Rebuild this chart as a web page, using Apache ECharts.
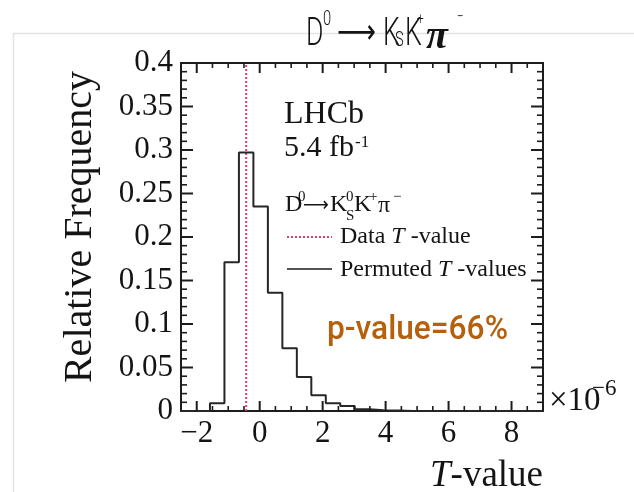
<!DOCTYPE html>
<html>
<head>
<meta charset="utf-8">
<script src="https://cdn.jsdelivr.net/npm/echarts@6/dist/echarts.min.js"></script>
<style>
  html, body { margin: 0; padding: 0; background: #fff; }
  #chart { width: 634px; height: 492px; }
</style>
</head>
<body>
<div id="chart"></div>
<script>
// Permutation-test histogram: relative frequency of permuted T-values (units of 1e-6)
const binEdges = [-2.5, -2.04, -1.58, -1.12, -0.66, -0.2, 0.26, 0.72, 1.18, 1.64, 2.1, 2.56,
                  3.02, 3.48, 3.94, 4.4, 4.86, 5.32, 5.78, 6.24, 6.7, 7.16, 7.62, 8.08, 8.54, 9.0];
const relFreq = [0, 0, 0.009, 0.171, 0.297, 0.235, 0.136, 0.072, 0.039, 0.018, 0.009, 0.0057,
                 0.002, 0.001, 0.0005, 0, 0, 0, 0, 0, 0, 0, 0, 0, 0];
const dataTValue = -0.43;
const pValueText = 'p-value=66%';

const xRange = [-2.5, 9];
const yRange = [0, 0.4];
const yMajorStep = 0.05;
const xMajorTicks = [-2, 0, 2, 4, 6, 8];
const xMinorTicks = [-1.5, -1, -0.5, 0.5, 1, 1.5, 2.5, 3, 3.5, 4.5, 5, 5.5, 6.5, 7, 7.5, 8.5];
const yMajorTicks = [0.05, 0.1, 0.15, 0.2, 0.25, 0.3, 0.35];
const yMinorTicks = [0.01, 0.02, 0.03, 0.04, 0.06, 0.07, 0.08, 0.09, 0.11, 0.12, 0.13, 0.14,
                     0.16, 0.17, 0.18, 0.19, 0.21, 0.22, 0.23, 0.24, 0.26, 0.27, 0.28, 0.29,
                     0.31, 0.32, 0.33, 0.34, 0.36, 0.37, 0.38, 0.39];

// outline of the histogram: corner points along each bin
const histPoints = [[binEdges[0], 0]];
relFreq.forEach((v, i) => {
  histPoints.push([binEdges[i], v]);
  histPoints.push([binEdges[i + 1], v]);
});
histPoints.push([binEdges[binEdges.length - 1], 0]);

const SERIF = '"Liberation Serif", "Times New Roman", serif';
const AXIS_COLOR = '#1c1c1c';
const INK = '#141414';
const DATA_COLOR = '#de3f6f';

// tick marks on all four frame sides: [x, y, side, length]
// side 0 = bottom, 1 = top, 2 = left, 3 = right
const frameTicks = [];
xMajorTicks.forEach(v => { frameTicks.push([v, yRange[0], 0, 10]); frameTicks.push([v, yRange[1], 1, 10]); });
xMinorTicks.forEach(v => { frameTicks.push([v, yRange[0], 0, 5]); frameTicks.push([v, yRange[1], 1, 5]); });
yMajorTicks.forEach(v => { frameTicks.push([xRange[0], v, 2, 12]); frameTicks.push([xRange[1], v, 3, 12]); });
yMinorTicks.forEach(v => { frameTicks.push([xRange[0], v, 2, 6]); frameTicks.push([xRange[1], v, 3, 6]); });

function xAxisDef(position, withLabels) {
  return {
    type: 'value', position, min: xRange[0], max: xRange[1],
    axisLine: { show: true, onZero: false, lineStyle: { color: AXIS_COLOR, width: 2 } },
    axisTick: { show: false },
    axisLabel: withLabels ? {
      show: true, customValues: xMajorTicks, margin: 7, fontFamily: SERIF, fontSize: 31, color: INK,
      formatter: v => String(v).replace('-', '\u2212')
    } : { show: false },
    splitLine: { show: false }
  };
}
function yAxisDef(position, withLabels) {
  return {
    type: 'value', position, min: yRange[0], max: yRange[1], interval: yMajorStep,
    axisLine: { show: true, onZero: false, lineStyle: { color: AXIS_COLOR, width: 2 } },
    axisTick: { show: false },
    axisLabel: withLabels ? { show: true, margin: 8, fontFamily: SERIF, fontSize: 31, color: INK }
                          : { show: false },
    splitLine: { show: false }
  };
}

function t(text, x, y, size, style, more) {
  const el = { type: 'text', x, y,
    style: Object.assign({ text, fontFamily: SERIF, fontSize: size, fill: INK,
                           align: 'left', verticalAlign: 'middle' }, style || {}) };
  return Object.assign(el, more || {});
}

const TITLE_FONT = 'Roboto, "DejaVu Sans", sans-serif';
const titleScale = { scaleX: 0.7 };

const chart = echarts.init(document.getElementById('chart'), null, { renderer: 'canvas' });
chart.setOption({
  animation: false,
  backgroundColor: '#ffffff',
  grid: { left: 181, right: 91, top: 63, bottom: 81, containLabel: false },
  xAxis: [xAxisDef('bottom', true), xAxisDef('top', false)],
  yAxis: [yAxisDef('left', true), yAxisDef('right', false)],
  series: [
    {
      name: 'Permuted T-values', type: 'line', xAxisIndex: 0, yAxisIndex: 0,
      data: histPoints, symbol: 'none', clip: true,
      lineStyle: { color: '#262626', width: 2 }, z: 3
    },
    {
      name: 'Data T-value', type: 'line', xAxisIndex: 0, yAxisIndex: 0,
      data: [[dataTValue, yRange[0]], [dataTValue, yRange[1]]], symbol: 'none',
      lineStyle: { color: DATA_COLOR, width: 2, type: [2, 2] }, z: 2
    },
    {
      name: 'frame ticks', type: 'custom', xAxisIndex: 0, yAxisIndex: 0,
      clip: false, silent: true, z: 6,
      encode: { x: 0, y: 1 },
      data: frameTicks,
      renderItem: (params, api) => {
        const p = api.coord([api.value(0), api.value(1)]);
        const side = api.value(2);
        const len = api.value(3);
        let x2 = p[0], y2 = p[1];
        if (side === 0) y2 -= len;
        else if (side === 1) y2 += len;
        else if (side === 2) x2 += len;
        else x2 -= len;
        return {
          type: 'line',
          shape: { x1: p[0], y1: p[1], x2, y2 },
          style: { stroke: AXIS_COLOR, lineWidth: len > 8 ? 2 : 1.6 }
        };
      }
    }
  ],
  graphic: [
    // light panel frame
    { type: 'polyline', shape: { points: [[13.5, 492], [13.5, 33.5], [634, 33.5]] },
      style: { stroke: '#e4e4e4', lineWidth: 1.5, fill: null }, silent: true },

    // headline
    t('D', 306, 35, 38, { fontFamily: TITLE_FONT, fontWeight: 300 }, titleScale),
    t('0', 323, 20, 21, { fontFamily: TITLE_FONT, fontWeight: 300 }, titleScale),
    t('\u27F6', 337, 34, 34, { fontFamily: '"DejaVu Sans", sans-serif' }, { scaleX: 0.8 }),
    t('K', 383, 35, 38, { fontFamily: TITLE_FONT, fontWeight: 300 }, titleScale),
    t('S', 395, 41, 21, { fontFamily: TITLE_FONT, fontWeight: 300 }, titleScale),
    t('K', 405, 35, 38, { fontFamily: TITLE_FONT, fontWeight: 300 }, titleScale),
    t('+', 417, 20, 17, { fontFamily: TITLE_FONT, fontWeight: 300 }, titleScale),
    t('\u03C0', 426, 38, 40, { fontStyle: 'italic', fontWeight: 'bold' }),
    t('\u2212', 457, 18, 17, { fontFamily: TITLE_FONT, fontWeight: 300 }, titleScale),

    // experiment label
    t('LHCb', 284, 115, 32),
    t('5.4 fb', 284, 148, 30),
    t('-1', 355, 143, 17),

    // legend header
    t('D', 285, 205, 24),
    t('0', 298, 197, 15),
    t('\u27F6', 303, 206, 20, { fontFamily: '"DejaVu Sans", sans-serif' }, { scaleX: 0.9 }),
    t('K', 330, 205, 24),
    t('0', 346, 197, 15),
    t('S', 346, 216, 15),
    t('K', 354, 205, 24),
    t('+', 369, 197, 15),
    t('\u03C0', 378, 206, 24),
    t('\u2212', 393, 197, 15),

    // legend entries
    { type: 'line', shape: { x1: 287, y1: 237, x2: 332, y2: 237 },
      style: { stroke: DATA_COLOR, lineWidth: 2, lineDash: [2, 2] } },
    { type: 'text', x: 340, y: 237, style: {
        text: '{r|Data }{i|T}{r| -value}', fontFamily: SERIF, fontSize: 24, fill: INK,
        align: 'left', verticalAlign: 'middle',
        rich: { r: { fontFamily: SERIF, fontSize: 24, fill: INK },
                i: { fontFamily: SERIF, fontSize: 24, fontStyle: 'italic', fill: INK } } } },
    { type: 'line', shape: { x1: 287, y1: 269, x2: 332, y2: 269 },
      style: { stroke: '#1a1a1a', lineWidth: 1.5 } },
    { type: 'text', x: 340, y: 270, style: {
        text: '{r|Permuted }{i|T}{r| -values}', fontFamily: SERIF, fontSize: 24, fill: INK,
        align: 'left', verticalAlign: 'middle',
        rich: { r: { fontFamily: SERIF, fontSize: 24, fill: INK },
                i: { fontFamily: SERIF, fontSize: 24, fontStyle: 'italic', fill: INK } } } },

    // p-value annotation
    t(pValueText, 327, 331, 33, { fontFamily: 'Roboto, sans-serif', fontWeight: 500, fill: '#b5600d' },
      { scaleX: 0.96 }),

    // axis titles and scale factor
    { type: 'text', x: 80, y: 227, rotation: Math.PI / 2, style: {
        text: 'Relative Frequency', fontFamily: SERIF, fontSize: 40, fill: INK,
        align: 'center', verticalAlign: 'middle' } },
    { type: 'text', x: 543, y: 476, style: {
        text: '{i|T}{r|-value}', fontFamily: SERIF, fontSize: 37, fill: INK,
        align: 'right', verticalAlign: 'middle',
        rich: { r: { fontFamily: SERIF, fontSize: 37, fill: INK },
                i: { fontFamily: SERIF, fontSize: 37, fontStyle: 'italic', fill: INK } } } },
    t('\u00D710', 549, 401, 33),
    t('\u22126', 592, 389, 23)
  ]
});
</script>
</body>
</html>
